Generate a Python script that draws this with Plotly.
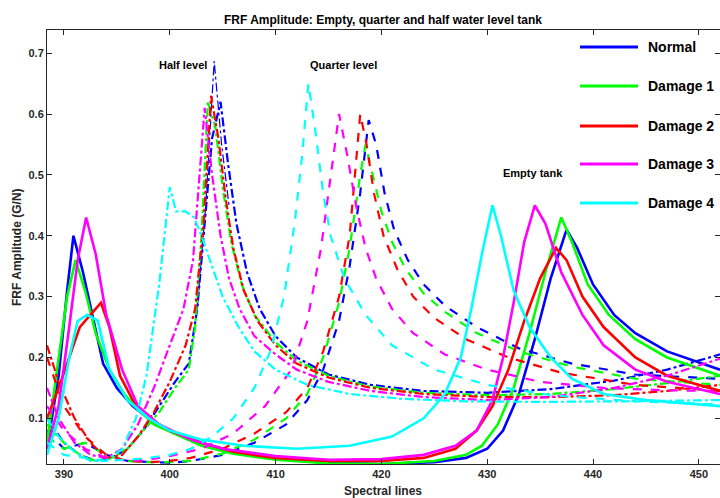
import plotly.graph_objects as go

# ---------------- data ----------------
conditions = ["Normal", "Damage 1", "Damage 2", "Damage 3", "Damage 4"]
colors = ["#0000FF", "#00FF00", "#FF0000", "#FF00FF", "#00FFFF"]
x_ticks = [390, 400, 410, 420, 430, 440, 450]
y_ticks = [0.1, 0.2, 0.3, 0.4, 0.5, 0.6, 0.7]

# Empty tank (solid)
empty_normal_x = [388.4, 389.5, 390.3, 390.9, 391.8, 392.8, 393.7, 395, 396.5, 398, 400, 403, 406, 410, 415, 420, 425, 428, 430, 431.5, 433, 434.5, 436, 437.5, 438.5, 440, 442, 444, 447, 452]
empty_normal_y = [0.05, 0.17, 0.31, 0.40, 0.34, 0.26, 0.19, 0.15, 0.12, 0.1, 0.08, 0.06, 0.045, 0.035, 0.027, 0.025, 0.028, 0.035, 0.05, 0.08, 0.14, 0.23, 0.33, 0.41, 0.38, 0.32, 0.27, 0.24, 0.21, 0.18]
empty_d1_x = [388.4, 389.5, 390.3, 391.1, 392, 393, 394.3, 395.7, 397, 398.5, 400.5, 403, 406, 410, 415, 420, 425, 428, 429.5, 431, 432.5, 434, 435.5, 437, 438, 439.5, 441.5, 444, 447, 452]
empty_d1_y = [0.06, 0.2, 0.3, 0.36, 0.31, 0.24, 0.18, 0.14, 0.115, 0.09, 0.075, 0.055, 0.042, 0.032, 0.026, 0.025, 0.03, 0.04, 0.055, 0.09, 0.15, 0.24, 0.34, 0.43, 0.39, 0.32, 0.27, 0.23, 0.2, 0.17]
empty_d2_x = [388.4, 389.5, 390.5, 391.5, 392.5, 393.5, 394.3, 395.3, 396.5, 398, 400, 403, 406, 410, 415, 420, 424, 427, 429, 430.5, 432, 433.5, 435, 436.5, 437.5, 439, 441, 444, 447, 452]
empty_d2_y = [0.1, 0.15, 0.2, 0.25, 0.27, 0.29, 0.25, 0.17, 0.13, 0.1, 0.08, 0.06, 0.045, 0.035, 0.03, 0.03, 0.035, 0.05, 0.08, 0.12, 0.18, 0.26, 0.33, 0.38, 0.36, 0.3, 0.25, 0.2, 0.17, 0.145]
empty_d3_x = [388.4, 389.5, 390.5, 391.3, 392.1, 393, 394, 395.5, 397, 399, 402, 405, 410, 415, 420, 424, 427, 429, 430.5, 431.5, 432.5, 433.5, 434.5, 435.5, 437, 439, 441, 444, 447, 452]
empty_d3_y = [0.05, 0.12, 0.25, 0.36, 0.43, 0.37, 0.27, 0.18, 0.12, 0.09, 0.065, 0.05, 0.038, 0.032, 0.033, 0.04, 0.055, 0.08, 0.13, 0.2, 0.29, 0.39, 0.45, 0.42, 0.34, 0.27, 0.22, 0.18, 0.16, 0.14]
empty_d4_x = [388.4, 389.5, 390.5, 391.3, 392.2, 393.2, 394.3, 396, 398, 400, 403, 407, 412, 417, 421, 424, 426, 427.5, 428.5, 429.5, 430.5, 431.3, 432.5, 434, 436, 438, 441, 445, 452]
empty_d4_y = [0.04, 0.1, 0.2, 0.26, 0.27, 0.26, 0.18, 0.13, 0.1, 0.08, 0.065, 0.055, 0.05, 0.055, 0.07, 0.1, 0.14, 0.2, 0.28, 0.37, 0.45, 0.4, 0.31, 0.25, 0.2, 0.165, 0.14, 0.13, 0.12]

# Quarter level (dashed)
quarter_normal_x = [388.4, 390, 392, 394, 396, 398, 400, 402, 405, 408, 411, 413, 414.5, 416, 417, 418, 418.8, 419.5, 420.3, 421.2, 422.5, 424, 426, 429, 433, 438, 444, 452]
quarter_normal_y = [0.08, 0.05, 0.06, 0.04, 0.03, 0.028, 0.027, 0.03, 0.04, 0.06, 0.09, 0.13, 0.18, 0.26, 0.35, 0.47, 0.59, 0.55, 0.47, 0.41, 0.36, 0.32, 0.285, 0.25, 0.215, 0.19, 0.172, 0.165]
quarter_d1_x = [388.4, 390, 392, 394, 396, 398, 400, 402, 405, 408, 411, 413, 414.5, 416, 417, 418, 418.5, 419.2, 420, 421, 422.3, 424, 426, 429, 433, 438, 444, 452]
quarter_d1_y = [0.07, 0.05, 0.06, 0.04, 0.03, 0.028, 0.028, 0.03, 0.042, 0.065, 0.1, 0.14, 0.2, 0.29, 0.38, 0.5, 0.55, 0.5, 0.44, 0.39, 0.345, 0.305, 0.275, 0.24, 0.21, 0.185, 0.165, 0.155]
quarter_d2_x = [388.4, 390, 392, 394, 396, 398, 400, 402, 405, 408, 411, 413, 414.5, 416, 417, 417.5, 418, 418.6, 419.3, 420.2, 421.5, 423, 425, 428, 432, 437, 444, 452]
quarter_d2_y = [0.2, 0.12, 0.07, 0.04, 0.03, 0.028, 0.03, 0.035, 0.05, 0.075, 0.11, 0.15, 0.21, 0.3, 0.4, 0.5, 0.6, 0.55, 0.47, 0.4, 0.345, 0.3, 0.265, 0.23, 0.2, 0.175, 0.155, 0.145]
quarter_d3_x = [388.4, 390, 392, 394, 396, 398, 400, 403, 406, 409, 411.5, 413, 414.3, 415.2, 416, 416.8, 417.6, 418.5, 419.5, 421, 423, 426, 430, 435, 441, 447, 452]
quarter_d3_y = [0.12, 0.08, 0.05, 0.035, 0.03, 0.032, 0.038, 0.05, 0.075, 0.12, 0.18, 0.26, 0.38, 0.5, 0.6, 0.53, 0.45, 0.38, 0.33, 0.28, 0.24, 0.205, 0.18, 0.16, 0.15, 0.146, 0.145]
quarter_d4_x = [388.4, 390, 392, 394, 396, 398, 400, 402, 404, 406, 408, 409.5, 410.8, 411.8, 412.5, 413.1, 413.7, 414.5, 415.2, 416.5, 418.5, 421, 425, 430, 436, 444, 452]
quarter_d4_y = [0.06, 0.04, 0.035, 0.03, 0.032, 0.035, 0.04, 0.05, 0.07, 0.1, 0.15, 0.21, 0.3, 0.42, 0.53, 0.65, 0.58, 0.47, 0.4, 0.33, 0.27, 0.22, 0.18, 0.155, 0.138, 0.128, 0.123]

# Half level (dash-dot)
half_normal_x = [388.4, 390, 391.5, 393, 394.5, 396, 397.5, 399, 400.5, 401.8, 402.6, 403.3, 404, 404.8, 405.5, 406.3, 407.3, 408.5, 410, 412, 415, 419, 424, 430, 436, 442, 447, 452]
half_normal_y = [0.1, 0.06, 0.04, 0.03, 0.035, 0.05, 0.08, 0.12, 0.16, 0.19, 0.28, 0.42, 0.56, 0.62, 0.52, 0.42, 0.34, 0.28, 0.235, 0.2, 0.172, 0.155, 0.145, 0.142, 0.148, 0.162, 0.18, 0.205]
half_normal_top_x = [402.6, 403.4, 404.2, 404.9, 405.6]
half_normal_top_y = [0.28, 0.45, 0.687, 0.55, 0.45]
half_d1_x = [388.4, 390, 391.5, 393, 394.5, 396, 397.5, 399, 400.5, 401.8, 402.4, 403, 403.6, 404.3, 405, 405.8, 406.8, 408, 410, 412, 415, 419, 424, 430, 436, 442, 447, 452]
half_d1_y = [0.09, 0.06, 0.04, 0.03, 0.035, 0.05, 0.08, 0.11, 0.15, 0.18, 0.25, 0.4, 0.62, 0.58, 0.48, 0.39, 0.32, 0.27, 0.225, 0.195, 0.17, 0.152, 0.142, 0.138, 0.14, 0.148, 0.158, 0.17]
half_d2_x = [388.4, 389.5, 391, 392.5, 394, 395.5, 397, 398.5, 400, 401.5, 402.4, 403.2, 403.9, 404.6, 405.3, 406, 407, 408.3, 410, 412, 415, 419, 424, 430, 436, 442, 447, 452]
half_d2_y = [0.22, 0.16, 0.1, 0.06, 0.035, 0.04, 0.07, 0.11, 0.16, 0.22, 0.28, 0.42, 0.63, 0.56, 0.46, 0.38, 0.31, 0.26, 0.22, 0.19, 0.167, 0.15, 0.14, 0.135, 0.135, 0.138, 0.145, 0.155]
half_d3_x = [388.4, 389.5, 391, 392.5, 394, 395.5, 397, 398.5, 400, 401.3, 402.2, 402.8, 403.3, 404, 404.8, 405.6, 406.6, 408, 410, 412, 415, 419, 424, 430, 436, 442, 447, 452]
half_d3_y = [0.15, 0.1, 0.06, 0.04, 0.035, 0.05, 0.09, 0.15, 0.22, 0.28, 0.36, 0.5, 0.61, 0.5, 0.4, 0.33, 0.28, 0.235, 0.205, 0.18, 0.16, 0.145, 0.135, 0.13, 0.135, 0.15, 0.17, 0.198]
half_d4_x = [388.4, 389.5, 391, 392.5, 394, 395.5, 396.8, 397.8, 399, 400, 400.6, 401.5, 402.3, 403, 404, 405, 406.5, 408, 410, 413, 417, 422, 428, 435, 443, 452]
half_d4_y = [0.1, 0.07, 0.045, 0.03, 0.03, 0.05, 0.1, 0.17, 0.32, 0.48, 0.44, 0.44, 0.43, 0.4, 0.35, 0.3, 0.25, 0.21, 0.18, 0.155, 0.14, 0.132, 0.128, 0.127, 0.128, 0.13]

# (x, y, dash, width) per condition
series = [
    [(empty_normal_x, empty_normal_y, "solid", 2.6), (quarter_normal_x, quarter_normal_y, "dash", 2.2),
     (half_normal_x, half_normal_y, "dashdot", 2.2), (half_normal_top_x, half_normal_top_y, "dashdot", 1.2)],
    [(empty_d1_x, empty_d1_y, "solid", 2.6), (quarter_d1_x, quarter_d1_y, "dash", 2.2), (half_d1_x, half_d1_y, "dashdot", 2.2)],
    [(empty_d2_x, empty_d2_y, "solid", 2.6), (quarter_d2_x, quarter_d2_y, "dash", 2.2), (half_d2_x, half_d2_y, "dashdot", 2.2)],
    [(empty_d3_x, empty_d3_y, "solid", 2.6), (quarter_d3_x, quarter_d3_y, "dash", 2.2), (half_d3_x, half_d3_y, "dashdot", 2.2)],
    [(empty_d4_x, empty_d4_y, "solid", 2.6), (quarter_d4_x, quarter_d4_y, "dash", 2.2), (half_d4_x, half_d4_y, "dashdot", 2.2)],
]

# ---------------- figure ----------------
FONT = "Liberation Sans, Arial, Helvetica, sans-serif"
DARK = "#262626"
W, H = 720, 498
L, R, T, B = 47, 0, 30, 34

fig = go.Figure()
for cond, col, group in zip(conditions, colors, series):
    for xs, ys, dash, wd in group:
        fig.add_trace(go.Scatter(x=xs, y=ys, mode="lines", name=cond, showlegend=False,
                                 line=dict(color=col, width=wd, dash=dash)))

def px_to_paper(px, py):
    return (px - L) / (W - L - R), (H - B - py) / (H - T - B)

shapes = []
annotations = []
legend_rows = [47, 86, 126, 164, 203]
for cond, col, py in zip(conditions, colors, legend_rows):
    x0, y0 = px_to_paper(580, py)
    x1, _ = px_to_paper(638, py)
    shapes.append(dict(type="line", xref="paper", yref="paper", x0=x0, x1=x1, y0=y0, y1=y0,
                       line=dict(color=col, width=3)))
    tx, ty = px_to_paper(646, py)
    annotations.append(dict(text=cond, xref="paper", yref="paper", x=tx, y=ty, xanchor="left",
                            yanchor="middle", showarrow=False,
                            font=dict(family=FONT, size=14, color="#000000", weight="bold")))

for txt, px, py in [("Half level", 183, 65), ("Quarter level", 343, 65), ("Empty tank", 533, 173)]:
    ax_, ay_ = px_to_paper(px, py)
    annotations.append(dict(text=txt, xref="paper", yref="paper", x=ax_, y=ay_, xanchor="center",
                            yanchor="middle", showarrow=False,
                            font=dict(family=FONT, size=11, color="#000000", weight="bold")))

ax_, ay_ = px_to_paper(383, 491)
annotations.append(dict(text="Spectral lines", xref="paper", yref="paper", x=ax_, y=ay_,
                        xanchor="center", yanchor="middle", showarrow=False,
                        font=dict(family=FONT, size=12, color=DARK, weight="bold")))
ax_, ay_ = px_to_paper(17, 247)
annotations.append(dict(text="FRF Amplitude (G/N)", xref="paper", yref="paper", x=ax_, y=ay_,
                        xanchor="center", yanchor="middle", showarrow=False, textangle=-90,
                        font=dict(family=FONT, size=12, color=DARK, weight="bold")))

axis_common = dict(showgrid=False, zeroline=False, showline=True, linecolor=DARK, linewidth=1,
                   mirror="ticks", ticks="inside", ticklen=5, tickcolor=DARK, tickwidth=1,
                   tickfont=dict(family=FONT, size=11, color=DARK, weight="bold"))

fig.update_layout(
    width=W, height=H,
    margin=dict(l=L, r=R, t=T, b=B),
    paper_bgcolor="white", plot_bgcolor="white",
    title=dict(text="FRF Amplitude: Empty, quarter and half water level tank",
               x=383 / W, xanchor="center", xref="container",
               y=1 - 20 / H, yanchor="middle", yref="container",
               font=dict(family=FONT, size=12, color="#000000", weight="bold")),
    xaxis=dict(range=[388.4, 452], tickvals=x_ticks, ticktext=[str(v) for v in x_ticks], **axis_common),
    yaxis=dict(range=[0.025, 0.738], tickvals=y_ticks, ticktext=[f"{v:.1f}" for v in y_ticks], **axis_common),
    shapes=shapes, annotations=annotations, showlegend=False,
)

fig.write_html("out.html")
